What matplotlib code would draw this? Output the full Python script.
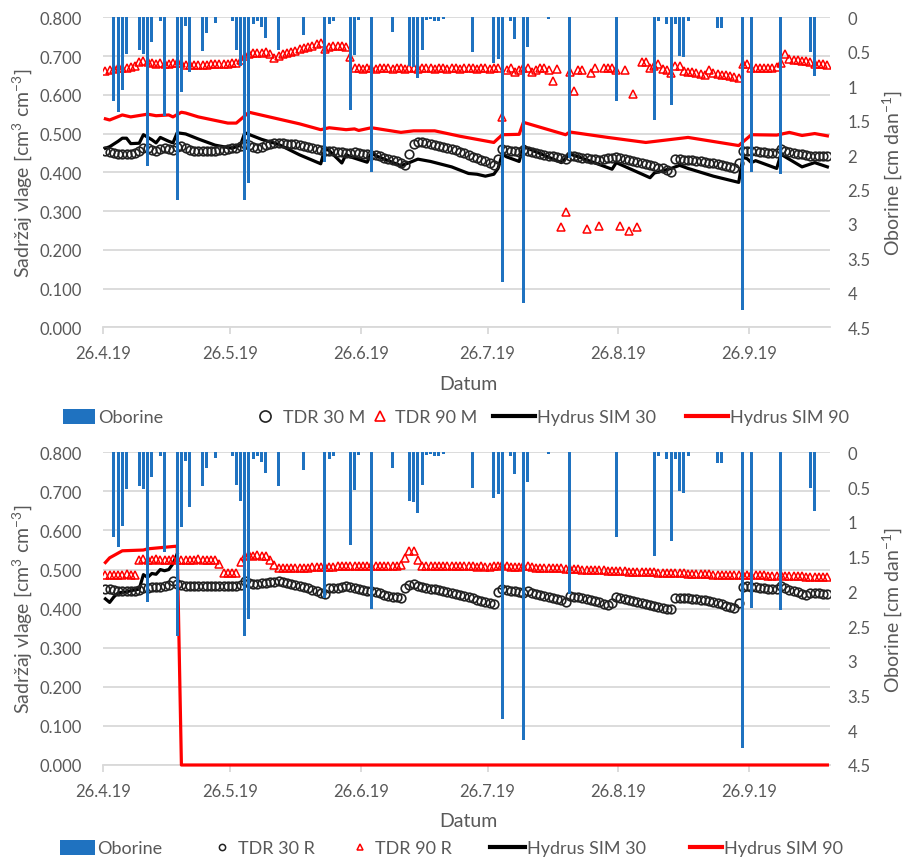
import numpy as np
import pandas as pd
import matplotlib
matplotlib.use("Agg")
import matplotlib.pyplot as plt
from matplotlib.lines import Line2D
from matplotlib.patches import Patch

plt.rcParams['font.family'] = ['Lato', 'DejaVu Sans']
plt.rcParams['mathtext.fontset'] = 'custom'
plt.rcParams['mathtext.rm'] = 'Lato'
plt.rcParams['mathtext.default'] = 'regular'

# ---------------- data ----------------
start_date = "2019-04-26"
tick_dates = ["2019-04-26", "2019-05-26", "2019-06-26", "2019-07-26", "2019-08-26", "2019-09-26"]
tick_labels = ["26.4.19", "26.5.19", "26.6.19", "26.7.19", "26.8.19", "26.9.19"]

# precipitation: day offset from 26.4.19 and amount [cm/day]
rain_day = [2, 3, 4, 5, 8, 9, 10, 11, 13, 14, 17, 18, 19, 20, 23, 24, 26, 30, 31, 32,
            33, 34, 35, 36, 37, 38, 41, 47, 52, 53, 54, 58, 59, 60, 63, 68, 72, 73, 74, 75,
            76, 77, 78, 79, 80, 87, 92, 93, 94, 96, 97, 99, 100, 105, 110, 121, 130, 131, 133, 134,
            135, 136, 137, 138, 145, 146, 151, 153, 160, 167, 168]
rain_cm = [1.22, 1.37, 1.06, 0.53, 0.48, 0.53, 2.16, 0.36, 0.05, 1.43, 2.65, 1.08, 0.12, 0.79, 0.49, 0.23, 0.08, 0.06, 0.47, 0.70,
           2.65, 2.40, 0.10, 0.06, 0.14, 0.30, 0.48, 0.26, 2.10, 0.10, 0.06, 1.34, 0.54, 0.04, 2.25, 0.22, 0.70, 0.72, 0.88, 0.47,
           0.04, 0.03, 0.05, 0.06, 0.03, 0.51, 0.66, 0.60, 3.84, 0.05, 0.31, 4.14, 0.43, 0.03, 2.04, 1.22, 1.49, 0.05, 0.10, 1.27,
           0.10, 0.56, 0.58, 0.05, 0.15, 0.15, 4.25, 2.24, 2.27, 0.51, 0.85]

# upper panel (M) - daily TDR readings
tdr30_m = [0.456, 0.452, 0.450, 0.448, 0.447, 0.446, 0.447, 0.450, 0.456, 0.462,
           0.463, 0.458, 0.456, 0.460, 0.462, 0.459, 0.458, 0.466, 0.469, 0.462,
           0.457, 0.455, 0.455, 0.456, 0.456, 0.456, 0.456, 0.457, 0.458, 0.460,
           0.462, 0.464, 0.467, 0.472, 0.470, 0.466, 0.464, 0.466, 0.470, 0.473,
           0.475, 0.476, 0.475, 0.474, 0.473, 0.472, 0.470, 0.468, 0.466, 0.463,
           0.460, 0.458, 0.456, 0.455, 0.454, 0.453, 0.452, 0.451, 0.450, 0.452,
           0.450, 0.448, 0.446, 0.444, 0.445, 0.442, 0.438, 0.435, 0.432, 0.429,
           0.425, 0.420, 0.447, 0.474, 0.478, 0.477, 0.475, 0.473, 0.471, 0.469,
           0.466, 0.463, 0.460, 0.457, 0.453, 0.449, 0.445, 0.440, 0.436, 0.432,
           0.428, 0.423, 0.418, 0.434, 0.460, 0.458, 0.456, 0.455, 0.452, 0.458,
           0.455, 0.452, 0.450, 0.447, 0.445, 0.443, 0.441, 0.439, 0.437, 0.434,
           0.443, 0.442, 0.440, 0.438, 0.437, 0.435, 0.434, 0.433, 0.434, 0.436,
           0.438, 0.440, 0.437, 0.434, 0.432, 0.429, 0.426, 0.424, 0.421, 0.418,
           0.415, 0.412, 0.410, 0.405, 0.402, 0.434, 0.434, 0.433, 0.432, 0.431,
           0.430, 0.428, 0.427, 0.425, 0.423, 0.421, 0.419, 0.416, 0.413, 0.410,
           0.424, 0.456, 0.456, 0.455, 0.454, 0.453, 0.452, 0.451, 0.450, 0.449,
           0.460, 0.455, 0.452, 0.450, 0.448, 0.446, 0.444, 0.442, 0.441, 0.441,
           0.442, 0.442]
tdr90_m = [0.662, 0.665, 0.667, 0.668, 0.668, 0.670, 0.672, 0.675, 0.685, 0.686,
           0.684, 0.682, 0.680, 0.682, 0.680, 0.680, 0.682, 0.683, 0.682, 0.678,
           0.676, 0.676, 0.677, 0.678, 0.678, 0.679, 0.679, 0.680, 0.680, 0.680,
           0.682, 0.683, 0.690, 0.700, 0.705, 0.708, 0.707, 0.708, 0.710, 0.706,
           0.696, 0.700, 0.705, 0.708, 0.711, 0.714, 0.717, 0.720, 0.724, 0.727,
           0.730, 0.734, 0.718, 0.724, 0.727, 0.727, 0.726, 0.724, 0.698, 0.668,
           0.668, 0.667, 0.668, 0.668, 0.667, 0.668, 0.668, 0.668, 0.667, 0.668,
           0.668, 0.667, 0.668, 0.668, 0.667, 0.668, 0.668, 0.668, 0.667, 0.668,
           0.668, 0.667, 0.668, 0.668, 0.667, 0.668, 0.668, 0.668, 0.667, 0.668,
           0.668, 0.667, 0.668, 0.668, 0.542, 0.665, 0.668, 0.660, 0.665, 0.668,
           0.668, 0.658, 0.665, 0.668, 0.668, 0.665, 0.636, 0.667, 0.258, 0.297,
           0.658, 0.610, 0.665, 0.665, 0.254, 0.655, 0.670, 0.262, 0.668, 0.668,
           0.668, 0.665, 0.262, 0.665, 0.249, 0.602, 0.260, 0.684, 0.684, 0.668,
           0.675, 0.679, 0.667, 0.663, 0.655, 0.675, 0.675, 0.662, 0.660, 0.658,
           0.656, 0.654, 0.652, 0.663, 0.655, 0.653, 0.652, 0.650, 0.648, 0.646,
           0.643, 0.679, 0.679, 0.670, 0.669, 0.668, 0.669, 0.670, 0.670, 0.672,
           0.683, 0.705, 0.692, 0.690, 0.689, 0.688, 0.686, 0.684, 0.680, 0.679,
           0.679, 0.678]
# Hydrus simulations (vertices: day offset, value)
sim30_m_day = [0, 1, 3, 4, 5, 6, 8, 9, 11, 12, 13, 15, 16, 17, 19, 22, 26, 30, 32, 33,
               37, 41, 46, 51, 52, 53, 56, 57, 58, 62, 63, 64, 70, 72, 74, 77, 82, 86, 88, 90,
               92, 93, 94, 95, 98, 99, 100, 108, 110, 112, 120, 121, 122, 129, 130, 134, 136, 138, 144, 150,
               151, 152, 153, 154, 159, 160, 161, 165, 168, 171]
sim30_m = [0.462, 0.466, 0.480, 0.488, 0.488, 0.474, 0.475, 0.497, 0.484, 0.476, 0.490, 0.480, 0.476, 0.502, 0.499, 0.486, 0.470, 0.462, 0.470, 0.502,
           0.485, 0.472, 0.445, 0.422, 0.462, 0.456, 0.424, 0.446, 0.440, 0.426, 0.450, 0.443, 0.417, 0.425, 0.434, 0.428, 0.414, 0.397, 0.395, 0.390,
           0.395, 0.410, 0.447, 0.440, 0.428, 0.469, 0.462, 0.425, 0.447, 0.440, 0.408, 0.425, 0.420, 0.386, 0.398, 0.410, 0.418, 0.410, 0.390, 0.374,
           0.439, 0.435, 0.425, 0.430, 0.410, 0.447, 0.440, 0.414, 0.425, 0.414]
sim90_m_day = [0, 1, 4, 6, 10, 12, 15, 16, 18, 19, 22, 29, 31, 34, 38, 46, 51, 53, 57, 59,
               60, 63, 70, 73, 78, 84, 92, 94, 98, 99, 109, 110, 119, 128, 138, 150, 153, 159, 162, 165,
               168, 171]
sim90_m = [0.538, 0.535, 0.548, 0.543, 0.550, 0.546, 0.548, 0.543, 0.555, 0.553, 0.543, 0.527, 0.527, 0.555, 0.545, 0.525, 0.510, 0.515, 0.510, 0.512,
           0.508, 0.515, 0.503, 0.507, 0.507, 0.493, 0.477, 0.497, 0.498, 0.529, 0.497, 0.504, 0.490, 0.477, 0.490, 0.469, 0.497, 0.496, 0.503, 0.495,
           0.500, 0.494]

# lower panel (R)
tdr30_r = [0.450, 0.449, 0.447, 0.445, 0.444, 0.444, 0.445, 0.446, 0.447, 0.452,
           0.453, 0.455, 0.455, 0.456, 0.457, 0.460, 0.472, 0.463, 0.460, 0.458,
           0.458, 0.457, 0.458, 0.458, 0.457, 0.458, 0.458, 0.458, 0.457, 0.458,
           0.458, 0.459, 0.460, 0.472, 0.465, 0.463, 0.463, 0.465, 0.466, 0.467,
           0.468, 0.472, 0.468, 0.466, 0.464, 0.461, 0.458, 0.455, 0.452, 0.448,
           0.444, 0.440, 0.438, 0.452, 0.453, 0.452, 0.455, 0.457, 0.455, 0.452,
           0.450, 0.448, 0.446, 0.444, 0.442, 0.439, 0.436, 0.433, 0.431, 0.429,
           0.428, 0.452, 0.460, 0.462, 0.458, 0.455, 0.453, 0.451, 0.449, 0.447,
           0.445, 0.443, 0.441, 0.438, 0.435, 0.432, 0.429, 0.426, 0.423, 0.420,
           0.417, 0.415, 0.413, 0.443, 0.450, 0.447, 0.446, 0.444, 0.442, 0.440,
           0.445, 0.440, 0.437, 0.435, 0.432, 0.430, 0.427, 0.424, 0.421, 0.418,
           0.433, 0.431, 0.429, 0.427, 0.425, 0.422, 0.419, 0.416, 0.413, 0.410,
           0.415, 0.430, 0.428, 0.425, 0.423, 0.420, 0.418, 0.415, 0.412, 0.409,
           0.406, 0.404, 0.402, 0.400, 0.398, 0.428, 0.428, 0.427, 0.426, 0.425,
           0.424, 0.423, 0.421, 0.419, 0.417, 0.414, 0.411, 0.408, 0.405, 0.402,
           0.415, 0.455, 0.457, 0.456, 0.455, 0.453, 0.452, 0.451, 0.450, 0.449,
           0.458, 0.452, 0.448, 0.445, 0.442, 0.438, 0.435, 0.440, 0.440, 0.439,
           0.438, 0.438]
tdr90_r = [0.487, 0.487, 0.486, 0.487, 0.487, 0.488, 0.487, 0.487, 0.525, 0.526,
           0.525, 0.525, 0.526, 0.525, 0.525, 0.525, 0.526, 0.525, 0.525, 0.525,
           0.525, 0.525, 0.526, 0.525, 0.525, 0.525, 0.524, 0.514, 0.490, 0.490,
           0.490, 0.490, 0.520, 0.535, 0.536, 0.535, 0.536, 0.535, 0.534, 0.525,
           0.512, 0.505, 0.503, 0.503, 0.504, 0.504, 0.505, 0.505, 0.505, 0.506,
           0.506, 0.506, 0.507, 0.507, 0.507, 0.508, 0.508, 0.508, 0.508, 0.509,
           0.509, 0.509, 0.509, 0.510, 0.510, 0.510, 0.510, 0.510, 0.510, 0.510,
           0.512, 0.530, 0.548, 0.548, 0.525, 0.510, 0.510, 0.510, 0.510, 0.510,
           0.509, 0.510, 0.509, 0.509, 0.508, 0.509, 0.508, 0.508, 0.507, 0.508,
           0.507, 0.507, 0.508, 0.510, 0.512, 0.508, 0.507, 0.507, 0.506, 0.510,
           0.508, 0.506, 0.505, 0.505, 0.505, 0.504, 0.503, 0.504, 0.503, 0.502,
           0.502, 0.501, 0.501, 0.500, 0.500, 0.499, 0.499, 0.498, 0.498, 0.497,
           0.497, 0.497, 0.496, 0.496, 0.495, 0.495, 0.494, 0.494, 0.494, 0.493,
           0.493, 0.492, 0.492, 0.491, 0.491, 0.491, 0.490, 0.490, 0.489, 0.489,
           0.489, 0.488, 0.488, 0.488, 0.487, 0.487, 0.487, 0.486, 0.486, 0.486,
           0.485, 0.487, 0.487, 0.486, 0.485, 0.485, 0.485, 0.484, 0.484, 0.484,
           0.485, 0.484, 0.484, 0.483, 0.483, 0.483, 0.482, 0.482, 0.482, 0.482,
           0.481, 0.481]
sim30_r = [0.425, 0.416, 0.430, 0.440, 0.442, 0.443, 0.446, 0.448, 0.450, 0.487,
           0.480, 0.490, 0.488, 0.500, 0.497, 0.500, 0.515, 0.540]
sim90_r_day = [0, 1, 4, 9, 10, 17, 18, 171]
sim90_r = [0.518, 0.530, 0.548, 0.550, 0.553, 0.560, 0.000, 0.000]

# ---------------- styling ----------------
W, H = 904, 862
GRAY = '#595959'
GRID = '#d9d9d9'
BLUE = '#1f72c0'
RED = '#ff0000'
X0 = 103.3
X1 = 830
PXDAY = 4.222
XMAX = (X1 - X0) / PXDAY

start = pd.Timestamp(start_date)
tick_pos = [(pd.Timestamp(d) - start).days for d in tick_dates]

fig = plt.figure(figsize=(W / 100, H / 100), dpi=100)


def rect(left, top, right, bottom):
    return [left / W, 1 - bottom / H, (right - left) / W, (bottom - top) / H]


def ftext(x_px, y_px, s, **kw):
    fig.text(x_px / W, 1 - y_px / H, s, ha='center', va='center', color=GRAY, **kw)


def panel(top, bottom, tdr30, tdr90, s30d, s30v, s90d, s90v, datum_y):
    ax = fig.add_axes(rect(X0, top, X1, bottom))
    ax2 = ax.twinx()
    ax.set_xlim(0, XMAX)
    ax.set_ylim(0, 0.8)
    yt = np.round(np.arange(0, 0.81, 0.1), 1)
    ax.set_yticks(yt)
    ax.set_yticklabels([f"{v:.3f}" for v in yt])
    ax.grid(axis='y', color=GRID, lw=1.3)
    ax.set_axisbelow(True)
    for s in ax.spines.values():
        s.set_visible(False)
    ax.spines['bottom'].set_visible(True)
    ax.spines['bottom'].set_color(GRID)
    ax.spines['bottom'].set_linewidth(1.3)
    ax.tick_params(axis='y', length=0, pad=15.5, labelsize=12, labelcolor=GRAY)
    ax.tick_params(axis='x', length=5, width=1.3, color=GRID, pad=8, labelsize=12, labelcolor=GRAY)
    ax.set_xticks(tick_pos)
    ax.set_xticklabels(tick_labels)

    x = np.arange(len(tdr30)) + 0.5
    ax.plot(np.array(s90d) + 0.5, s90v, color=RED, lw=2.3, zorder=3, clip_on=False,
            solid_joinstyle='round')
    ax.plot(np.array(s30d) + 0.5, s30v, color='black', lw=2.3, zorder=3, solid_joinstyle='round')
    ax.plot(x, tdr30, 'o', mfc='none', mec='#222222', ms=6.2, mew=1.2, zorder=4)
    ax.plot(x, tdr90, '^', mfc='none', mec=RED, ms=6.2, mew=1.1, zorder=4)

    ax2.bar(np.array(rain_day) + 0.5, rain_cm, width=0.72, color=BLUE, zorder=2)
    ax2.set_ylim(4.5, 0)
    ax2.set_xlim(0, XMAX)
    rt = np.arange(0, 4.51, 0.5)
    ax2.set_yticks(rt)
    ax2.set_yticklabels([f"{v:g}" for v in rt])
    ax2.tick_params(axis='y', length=0, pad=12.5, labelsize=12, labelcolor=GRAY)
    for s in ax2.spines.values():
        s.set_visible(False)

    mid = (top + bottom) / 2
    ftext(22, mid, r'Sadržaj vlage [cm$^{3}$ cm$^{-3}$]', fontsize=14, rotation=90)
    ftext(892, mid, r'Oborine [cm dan$^{-1}$]', fontsize=14, rotation=90)
    ftext(468, datum_y, 'Datum', fontsize=14)
    return ax, ax2


panel(18.3, 328.3, tdr30_m, tdr90_m, sim30_m_day, sim30_m, sim90_m_day, sim90_m, 385)
panel(453.3, 766, tdr30_r, tdr90_r, list(range(len(sim30_r))), sim30_r, sim90_r_day, sim90_r, 822)

FS = 13
fs_px = FS * 100 / 72


def item(handle, label, left_px, y_px, hl_px, pad_px, hh=0.7):
    fig.legend([handle], [label], loc='center left',
               bbox_to_anchor=(left_px / W, 1 - y_px / H), frameon=False,
               borderpad=0, borderaxespad=0, handlelength=hl_px / fs_px,
               handletextpad=pad_px / fs_px, handleheight=hh, fontsize=FS,
               labelcolor=GRAY)


def marker_item(marker, color, ms, mew, label, center_px, text_px, y_px):
    h = Line2D([], [], ls='none', marker=marker, mfc='none', mec=color, ms=ms, mew=mew)
    w = 16
    item(h, label, center_px - w / 2, y_px, w, text_px - (center_px + w / 2))


# upper legend
item(Patch(facecolor=BLUE), 'Oborine', 63, 418, 32, 3, hh=0.9)
marker_item('o', '#222222', 8, 1.2, 'TDR 30 M', 265, 283, 418)
marker_item('^', RED, 7, 1.2, 'TDR 90 M', 380, 395, 418)
item(Line2D([], [], color='black', lw=3), 'Hydrus SIM 30', 493, 418, 42, 2)
item(Line2D([], [], color=RED, lw=3), 'Hydrus SIM 90', 686, 418, 42, 2)
# lower legend
item(Patch(facecolor=BLUE), 'Oborine', 60, 849, 35, 2, hh=0.9)
marker_item('o', '#222222', 4.5, 1.1, 'TDR 30 R', 222, 238, 849)
marker_item('^', RED, 4.5, 1.1, 'TDR 90 R', 360, 375, 849)
item(Line2D([], [], color='black', lw=3), 'Hydrus SIM 30', 490, 849, 35, 2)
item(Line2D([], [], color=RED, lw=3), 'Hydrus SIM 90', 690, 849, 32, 2)

fig.savefig('out.png', dpi=100)
